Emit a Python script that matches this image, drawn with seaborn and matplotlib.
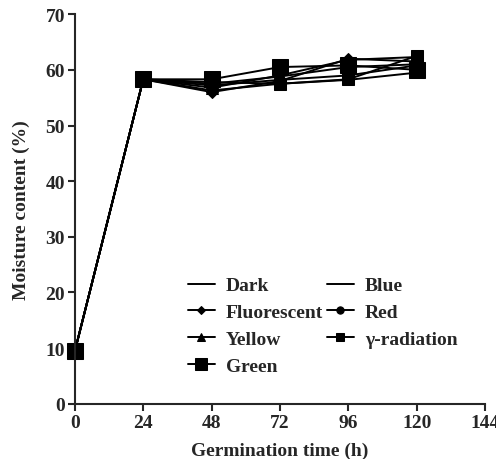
import numpy as np
import pandas as pd
import matplotlib
matplotlib.use("Agg")
import matplotlib.pyplot as plt
import seaborn as sns

# Data
hours = [0, 24, 48, 72, 96, 120]

dark = [9.5, 58.3, 57.2, 58.2, 59.0, 60.8]
fluorescent = [9.5, 58.3, 56.0, 58.0, 62.0, 61.5]
yellow = [9.5, 58.3, 56.8, 59.0, 61.8, 62.3]
green = [9.5, 58.3, 58.3, 60.5, 60.8, 60.0]
blue = [9.5, 58.3, 57.5, 58.8, 60.5, 61.0]
red = [9.5, 58.3, 56.3, 57.5, 58.2, 59.5]
gamma = [9.5, 58.3, 57.8, 57.5, 58.3, 62.5]

series = [
    ("Dark", dark, None, 0),
    ("Fluorescent", fluorescent, "D", 6),
    ("Yellow", yellow, "^", 8),
    ("Green", green, "s", 12),
    ("Blue", blue, None, 0),
    ("Red", red, "o", 7),
    ("\u03b3-radiation", gamma, "s", 8),
]

sns.set_style("ticks")
plt.rcParams["font.family"] = ["Liberation Serif", "DejaVu Serif"]
plt.rcParams["font.weight"] = "bold"
plt.rcParams["axes.labelweight"] = "bold"

fig = plt.figure(figsize=(4.96, 4.6), dpi=100)
ax = fig.add_axes([0.151, 0.12, 0.827, 0.847])

for name, vals, mk, ms in series:
    sns.lineplot(x=hours, y=vals, ax=ax, color="black", linewidth=1.4,
                 marker=mk, markersize=ms, markeredgecolor="black",
                 label=name)

ax.set_xlim(0, 144)
ax.set_ylim(0, 70)
ax.set_xticks(range(0, 145, 24))
ax.set_yticks(range(0, 71, 10))
ax.set_xlabel("Germination time (h)", fontsize=14, labelpad=8)
ax.set_ylabel("Moisture content (%)", fontsize=14, labelpad=11)
ax.tick_params(labelsize=14, width=1.5, length=5, direction="out", pad=2)
for s in ["top", "right"]:
    ax.spines[s].set_visible(False)
for s in ["left", "bottom"]:
    ax.spines[s].set_linewidth(1.5)

leg = ax.legend(ncol=2, frameon=False, loc="lower left",
                bbox_to_anchor=(0.275, 0.075), fontsize=14, borderpad=0,
                borderaxespad=0, markerscale=0.75,
                handlelength=1.4, columnspacing=0.2, labelspacing=0.47,
                handletextpad=0.55)
for c in ax.get_children():
    if isinstance(c, matplotlib.lines.Line2D):
        c.set_clip_on(False)

fig.savefig("out.png", dpi=100)
